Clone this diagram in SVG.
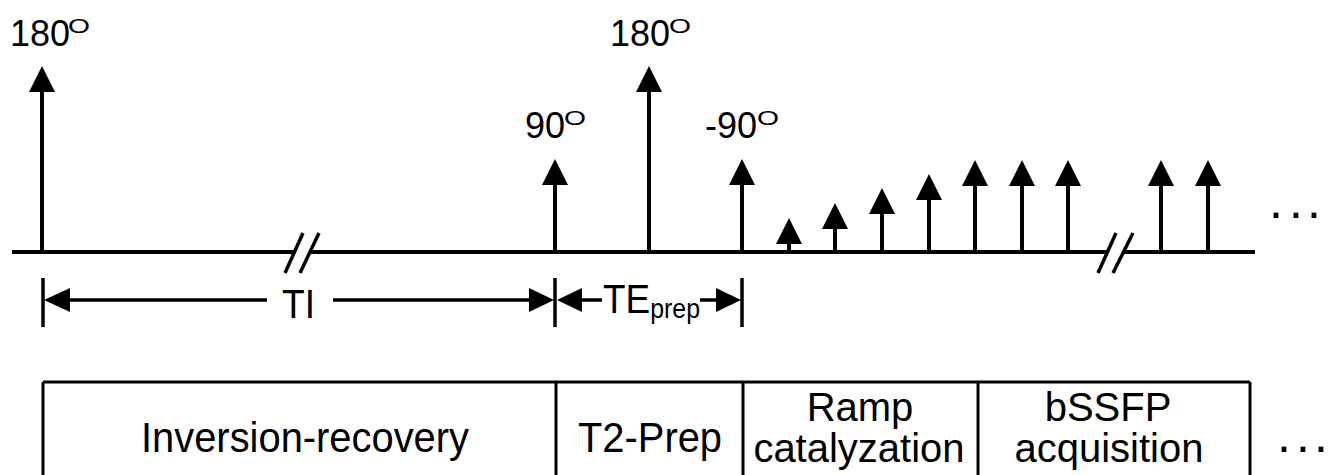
<svg xmlns="http://www.w3.org/2000/svg" width="1334" height="475" viewBox="0 0 1334 475">
<style>
text{font-family:"Liberation Sans",Arial,sans-serif;fill:#000}
.lbl{font-size:36px}
.sup{font-size:21px}
.big{font-size:40px}
.box-t{font-size:42px}
.dot{font-size:50px}
.sub{font-size:27px}
.ln{stroke:#000;stroke-width:4;fill:none}
.thin{stroke:#000;stroke-width:3.5;fill:none}
.hd{fill:#000;stroke:none}
.box{stroke:#000;stroke-width:3;fill:none}
</style>
<defs>
<path id="head" d="M0,0 L13,26 L-13,26 Z"/>
</defs>
<g id="connectors">
<g id="baseline">
<line class="ln" x1="12" y1="252" x2="295" y2="252"/>
<line class="ln" x1="310" y1="252" x2="1108" y2="252"/>
<line class="ln" x1="1123" y1="252" x2="1255" y2="252"/>
<line class="thin" x1="285" y1="273" x2="303" y2="233"/>
<line class="thin" x1="300" y1="273" x2="319" y2="233"/>
<line class="thin" x1="1098" y1="273" x2="1116" y2="233"/>
<line class="thin" x1="1113" y1="273" x2="1133" y2="233"/>
</g>
<g id="dim-lines">
<line class="thin" x1="43" y1="278" x2="43" y2="327"/>
<line class="thin" x1="555" y1="278" x2="555" y2="327"/>
<line class="thin" x1="742" y1="278" x2="742" y2="327"/>
<line class="thin" x1="68" y1="300" x2="267" y2="300"/>
<line class="thin" x1="333" y1="300" x2="532" y2="300"/>
<path class="hd" d="M44,300 L70,288 L70,312 Z"/>
<path class="hd" d="M554,300 L529,288 L529,312 Z"/>
<line class="thin" x1="580" y1="300" x2="602" y2="300"/>
<line class="thin" x1="700" y1="300" x2="719" y2="300"/>
<path class="hd" d="M557,300 L582,288 L582,312 Z"/>
<path class="hd" d="M741,300 L716,288 L716,312 Z"/>
</g>
</g>
<g id="pulse-180a"><line class="ln" x1="42" y1="252" x2="42" y2="90"/><use href="#head" class="hd" x="42" y="66"/>
<text class="lbl" x="10" y="46">180</text><text class="sup" x="68" y="33" textLength="22" lengthAdjust="spacingAndGlyphs">O</text></g>
<g id="pulse-90"><line class="ln" x1="555" y1="252" x2="555" y2="182"/><use href="#head" class="hd" x="555" y="159"/>
<text class="lbl" x="525" y="138">90</text><text class="sup" x="564" y="125" textLength="22" lengthAdjust="spacingAndGlyphs">O</text></g>
<g id="pulse-180b"><line class="ln" x1="649" y1="252" x2="649" y2="90"/><use href="#head" class="hd" x="649" y="66"/>
<text class="lbl" x="610" y="46">180</text><text class="sup" x="669" y="33" textLength="22" lengthAdjust="spacingAndGlyphs">O</text></g>
<g id="pulse-m90"><line class="ln" x1="742" y1="252" x2="742" y2="182"/><use href="#head" class="hd" x="742" y="159"/>
<text class="lbl" x="705" y="138">-90</text><text class="sup" x="757" y="125" textLength="22" lengthAdjust="spacingAndGlyphs">O</text></g>
<g id="ramp">
<line class="ln" x1="789" y1="252" x2="789" y2="240"/><use href="#head" class="hd" x="789" y="218"/>
<line class="ln" x1="835" y1="252" x2="835" y2="226"/><use href="#head" class="hd" x="835" y="203"/>
<line class="ln" x1="882" y1="252" x2="882" y2="211"/><use href="#head" class="hd" x="882" y="188"/>
<line class="ln" x1="929" y1="252" x2="929" y2="197"/><use href="#head" class="hd" x="929" y="174"/>
<line class="ln" x1="975" y1="252" x2="975" y2="183"/><use href="#head" class="hd" x="975" y="160"/>
<line class="ln" x1="1022" y1="252" x2="1022" y2="183"/><use href="#head" class="hd" x="1022" y="160"/>
<line class="ln" x1="1068" y1="252" x2="1068" y2="183"/><use href="#head" class="hd" x="1068" y="160"/>
<line class="ln" x1="1161" y1="252" x2="1161" y2="183"/><use href="#head" class="hd" x="1161" y="160"/>
<line class="ln" x1="1208" y1="252" x2="1208" y2="183"/><use href="#head" class="hd" x="1208" y="160"/>
<text class="dot" y="218"><tspan x="1269">.</tspan><tspan x="1289">.</tspan><tspan x="1307">.</tspan></text>
</g>
<g id="dim-labels">
<text class="big" x="282" y="318" textLength="33" lengthAdjust="spacingAndGlyphs">TI</text>
<text class="big" x="603" y="313" textLength="97" lengthAdjust="spacingAndGlyphs">TE<tspan class="sub" dy="5">prep</tspan></text>
</g>
<g id="box-ir"><line class="box" x1="43" y1="382" x2="43" y2="480"/><line class="box" x1="43" y1="382" x2="556" y2="382"/>
<text class="box-t" x="305" y="452" text-anchor="middle" textLength="328" lengthAdjust="spacingAndGlyphs">Inversion-recovery</text></g>
<g id="box-t2"><line class="box" x1="556" y1="382" x2="556" y2="480"/><line class="box" x1="556" y1="382" x2="743" y2="382"/>
<text class="box-t" x="650" y="452" text-anchor="middle" textLength="144" lengthAdjust="spacingAndGlyphs">T2-Prep</text></g>
<g id="box-ramp"><line class="box" x1="743" y1="382" x2="743" y2="480"/><line class="box" x1="743" y1="382" x2="978" y2="382"/>
<text class="big" text-anchor="middle"><tspan x="860" y="421">Ramp</tspan><tspan x="859" y="462">catalyzation</tspan></text></g>
<g id="box-bssfp"><line class="box" x1="978" y1="382" x2="978" y2="480"/><line class="box" x1="978" y1="382" x2="1250" y2="382"/><line class="box" x1="1250" y1="382" x2="1250" y2="480"/>
<text class="big" text-anchor="middle"><tspan x="1108" y="421">bSSFP</tspan><tspan x="1109" y="462">acquisition</tspan></text></g>
<g id="more"><text class="dot" y="452"><tspan x="1277">.</tspan><tspan x="1296">.</tspan><tspan x="1314">.</tspan></text></g>
</svg>
